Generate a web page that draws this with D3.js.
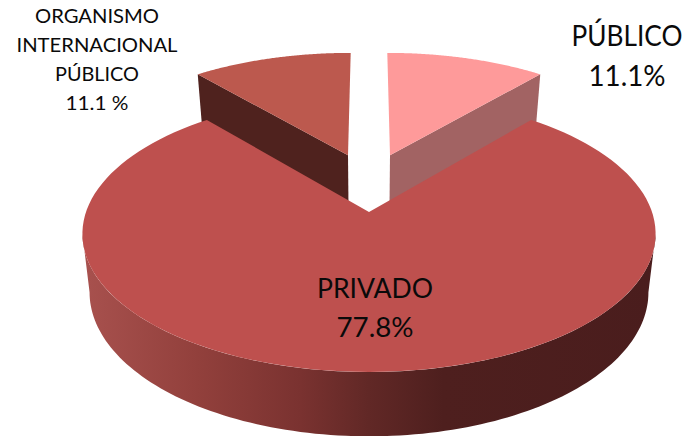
<!DOCTYPE html>
<html><head><meta charset="utf-8">
<script src="https://cdn.jsdelivr.net/npm/d3@7"></script>
<style>html,body{margin:0;padding:0;background:#fff}svg{display:block}text{font-family:Lato,"Open Sans",sans-serif;fill:#0a0a0a}</style>
</head><body><svg id="c" width="698" height="436"></svg>
<script>
const categories = ["PÚBLICO", "PRIVADO", "ORGANISMO INTERNACIONAL PÚBLICO"];
const values = [11.1, 77.8, 11.1];
const valueLabels = ["11.1%", "77.8%", "11.1 %"];
const topColors = ["#fe9a9a", "#be504e", "#bc594e"];
const wallColors = ["#a26363", null, "#4f221e"];

// Perspective camera for the tilted disc
const cx = 369, cy = 212, R = 283, tilt = 0.476, persp = 0.158, depth = 59, shrink = 0.975;
const explode = [[22.5, 128], [0, 0], [-22.5, 128]];

function project(u, v, low) {
  const s = 1 / (1 + persp * v / R), h = low ? shrink : 1;
  return [cx + u * s * h, cy - v * tilt * s * h + (low ? depth * s * h : 0)];
}
const onRim = (a, off, low) => project(off[0] + R * Math.sin(a), off[1] + R * Math.cos(a), low);
const sweep = (a0, a1, off, low) => d3.range(0, 121).map(i => onRim(a0 + (a1 - a0) * i / 120, off, low));

const svg = d3.select("#c");
const line = d3.line();
const arcs = d3.pie().sort(null).value(d => d)(values);

const defs = svg.append("defs");
const grad = defs.append("linearGradient").attr("id", "wall").attr("gradientUnits", "userSpaceOnUse")
  .attr("x1", 83).attr("x2", 655).attr("y1", 0).attr("y2", 0);
[[0, "#a8514e"], [0.2, "#92403c"], [0.38, "#7a3230"], [0.5, "#612826"], [0.63, "#4e1f1e"], [1, "#4a1d1d"]]
  .forEach(([o, c]) => grad.append("stop").attr("offset", o).attr("stop-color", c));

// Detached slices: wall from apex to the outer back corner, then the top face
[0, 2].forEach(i => {
  const d = arcs[i], off = explode[i];
  const a = i === 0 ? d.endAngle : d.startAngle;
  svg.append("path").attr("fill", wallColors[i]).attr("d", line([
    project(off[0], off[1], false), onRim(a, off, false), onRim(a, off, true), project(off[0], off[1], true)
  ]) + "Z");
  svg.append("path").attr("fill", topColors[i]).attr("d",
    line([project(off[0], off[1], false), ...sweep(d.startAngle, d.endAngle, off, false)]) + "Z");
});

// Main slice: front wall then top face
const big = arcs[1], off0 = explode[1];
const turn = Math.acos(-persp);
const wall = [...sweep(turn, 2 * Math.PI - turn, off0, false), ...sweep(2 * Math.PI - turn, turn, off0, true)];
svg.append("path").attr("fill", "url(#wall)").attr("d", line(wall) + "Z");
svg.append("path").attr("fill", topColors[1]).attr("d",
  line([project(0, 0, false), ...sweep(big.startAngle, big.endAngle, off0, false)]) + "Z");

// Labels
const labelLines = [
  [categories[0], valueLabels[0]],
  [categories[1], valueLabels[1]],
  [...categories[2].replace("ORGANISMO INTERNACIONAL", "ORGANISMO|INTERNACIONAL").replace(" PÚBLICO", "|PÚBLICO").split("|"), valueLabels[2]]
];
const labelLayout = [
  {x: 627, ys: [46, 86], size: 28, w: [111, 77]},
  {x: 375, ys: [298, 337], size: 26, w: [116, 77]},
  {x: 97, ys: [23, 52, 81, 110], size: 19.5, w: [124, 161, 84, 63]}
];
labelLines.forEach((ls, i) => {
  const L = labelLayout[i];
  ls.forEach((t, j) => svg.append("text").attr("x", L.x).attr("y", L.ys[j]).attr("text-anchor", "middle")
    .attr("font-size", L.size).attr("textLength", L.w[j]).attr("lengthAdjust", "spacingAndGlyphs").text(t));
});
</script></body></html>
